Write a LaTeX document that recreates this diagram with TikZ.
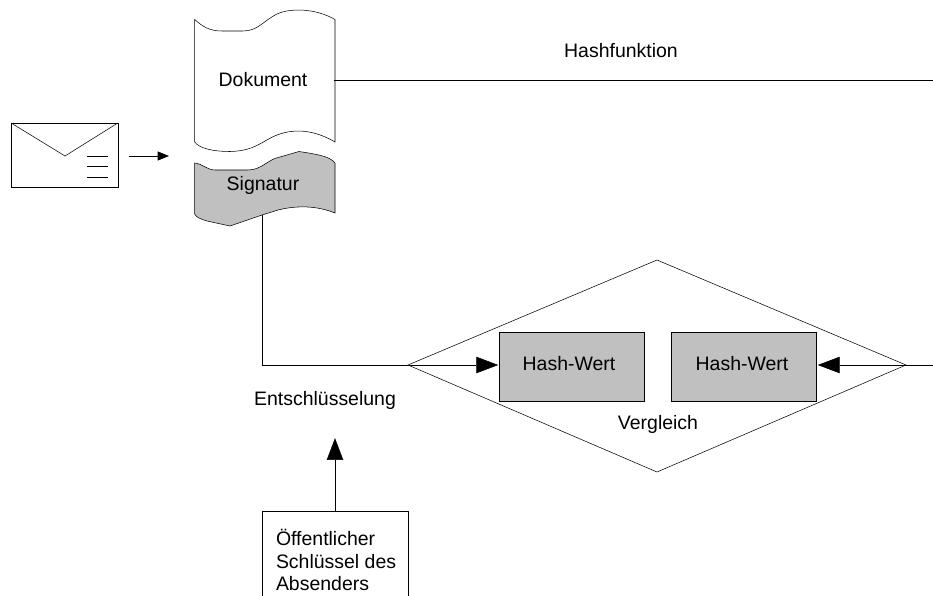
\documentclass[tikz,border=0pt]{standalone}
\usepackage{fontspec}
\setmainfont{Liberation Sans}
\usetikzlibrary{arrows.meta}

\begin{document}
\begin{tikzpicture}[x=0.75pt,y=-0.75pt]
\tikzset{ >=latex, inner sep=0pt, outer sep=0pt, line width=1pt, font=\fontsize{14.6}{17.2}\selectfont,
  hashbox/.style={draw, fill=hashgray, minimum width=109pt, minimum height=52pt},
  bigtip/.style={-{Triangle[length=17.5pt,width=13pt]}},
  smalltip/.style={-{Triangle[length=9.5pt,width=7.5pt]}},
}
\definecolor{hashgray}{HTML}{C0C0C0}

\useasboundingbox (0,0) rectangle (933,596);

% Dokument und Signatur
\draw (194.7,19.5) .. controls (203,27) and (210,31) .. (222,31) -- (243,31)
  .. controls (258,31) and (263,21) .. (277,14) .. controls (290,8) and (315,8) .. (335,19.5)
  -- (335,142) .. controls (318,132) and (298,127) .. (277,135)
  .. controls (262,141) and (255,151) .. (230,151.5) .. controls (212,151.5) and (199,148) .. (194.7,142) -- cycle;
\draw [fill=hashgray] (194.7,163) .. controls (203,164) and (207,170) .. (215,170) -- (248,170)
  .. controls (262,170) and (268,159) .. (280,157) -- (299,151.5) .. controls (315,154) and (330,156) .. (335,163)
  -- (335,213) .. controls (318,206) and (298,205) .. (278,210) -- (262,215) -- (230,226)
  -- (207,221) .. controls (200,219) and (196,217) .. (194.7,214) -- cycle;

\node (Dok) at (263,80) {Dokument};
\node (Sig) at (263,185.5) {Signatur};
\coordinate (DokOut) at (334,80);
\coordinate (SigOut) at (262,215);

% Brief
\node [draw, minimum width=80pt, minimum height=48pt] (Mail) at (64.5,155) {};
\coordinate (Flap) at (65,156);
\draw (Mail.north west) -- (Flap) -- (Mail.north east);
\foreach \y in {156,166,177} { \draw (87,\y) -- (108,\y); }
\coordinate (MailTo) at (170,156);
\coordinate (MailFrom) at (129,156);
\draw [smalltip] (MailFrom) -- (MailTo);

% Vergleich
\coordinate (CmpL) at (408,365);
\coordinate (CmpT) at (657,260);
\coordinate (CmpR) at (906,365);
\coordinate (CmpB) at (657,472);
\draw (CmpL) -- (CmpT) -- (CmpR) -- (CmpB) -- cycle;

\node [hashbox] (HashL) at (572,366.5) {};
\node [hashbox] (HashR) at (744,366.5) {};
\node (HashLText) at (569,364) {Hash-Wert};
\node (HashRText) at (742,364) {Hash-Wert};

\coordinate (Corner) at (262,365);
\coordinate (HashIn) at (933,365);
\draw (SigOut) -- (Corner) -- (CmpL);
\draw [bigtip] (CmpL) -- (HashL.west |- CmpL);
\draw (HashIn) -- (CmpR);
\draw [bigtip] (CmpR) -- (HashR.east |- CmpR);
\draw (DokOut) -- (933,80);

% Schluessel
\node [draw, minimum width=109.5pt, minimum height=72pt] (Key) at (335,559) {};
\node [anchor=west, align=left] (KeyText) at (276,560) {Öffentlicher\\Schlüssel des\\Absenders};
\coordinate (KeyTo) at (335,437);
\draw [bigtip] (Key.north) -- (KeyTo);

\node (Hf) at (621,51) {Hashfunktion};
\node (Ent) at (325,400) {Entschlüsselung};
\node (Vgl) at (658,424.5) {Vergleich};

\end{tikzpicture}
\end{document}
